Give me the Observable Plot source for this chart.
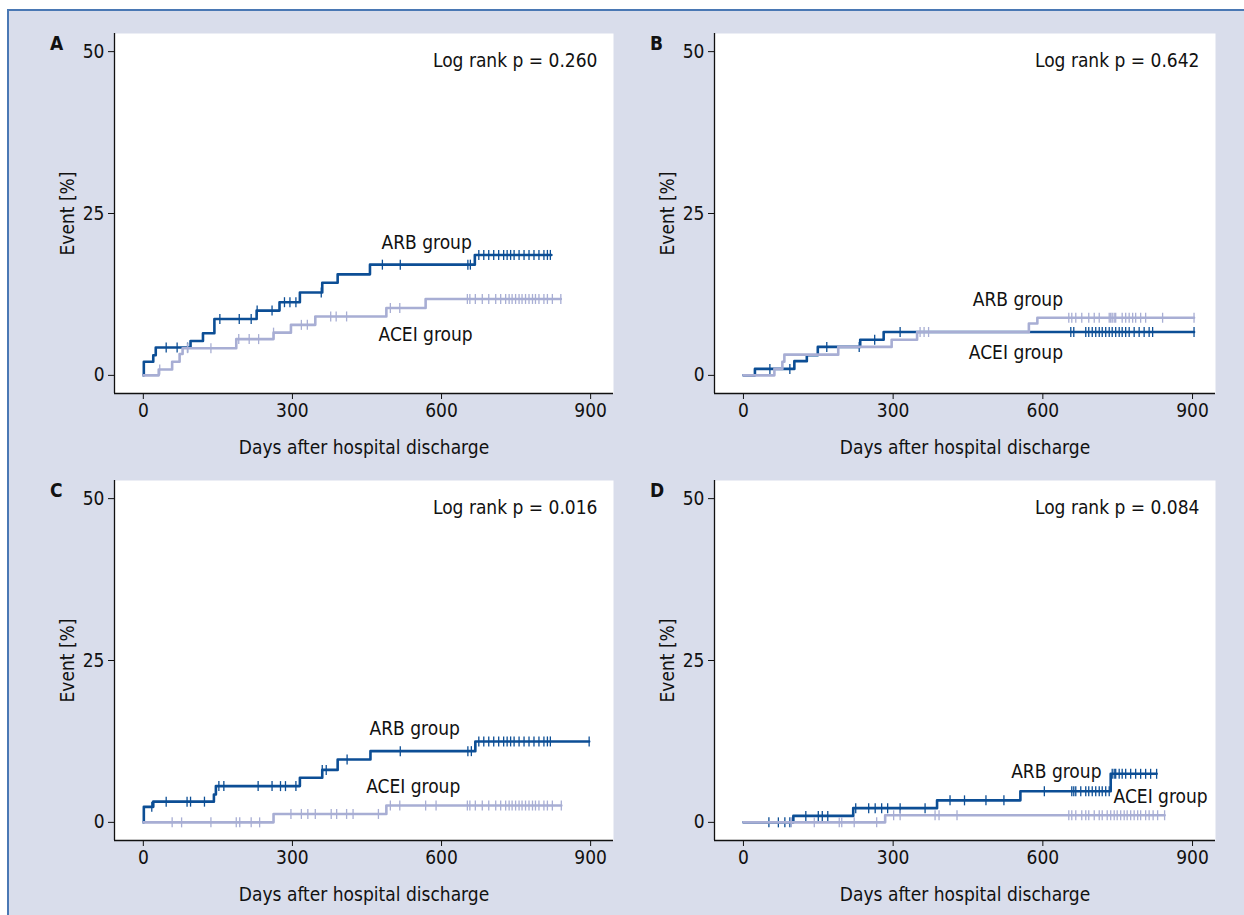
<!DOCTYPE html>
<html><head><meta charset="utf-8">
<script src="https://cdn.jsdelivr.net/npm/d3@7"></script>
<script src="https://cdn.jsdelivr.net/npm/@observablehq/plot@0.6"></script>
<style>
body{margin:0;background:#fff;}
#fig{position:relative;width:1244px;height:915px;overflow:hidden;font-family:"Liberation Sans Narrow","Arial Narrow","DejaVu Sans Condensed",sans-serif;}
#bg{position:absolute;left:7px;top:9px;right:-5px;bottom:-5px;background:#d9ddeb;border-top:2px solid #4a78b4;border-left:2px solid #4a78b4;}
.panel{position:absolute;}
.letter{position:absolute;font-weight:bold;font-size:19px;line-height:19px;color:#111;}
</style></head>
<body><div id="fig"><div id="bg"></div></div>
<script>
// ---- shared text / ticks ----
const panelLetters = ["A", "B", "C", "D"];
const logRankP = ["0.260", "0.642", "0.016", "0.084"];
const groupNames = ["ARB group", "ACEI group"];
const xTicks = [0, 300, 600, 900];
const yTicks = [0, 25, 50];
const xDomain = [-58, 946];
const yDomain = [-2.8, 52.8];

// ---- Panel A ----
const arbA_days = [0, 1, 20, 25, 95, 120, 143, 228, 274, 315, 360, 391, 456, 667, 821];
const arbA_pct = [0, 2.1, 3.1, 4.3, 5.3, 6.5, 8.7, 10.0, 11.3, 12.8, 14.3, 15.6, 17.1, 18.6, 18.6];
const arbA_censor = [46, 68, 89, 154, 193, 217, 229, 259, 284, 295, 307, 358, 481, 517, 653, 658, 675, 685, 695, 705, 715, 725, 732, 739, 746, 756, 766, 776, 786, 796, 806, 813, 819];
const aceiA_days = [0, 31, 58, 73, 79, 187, 262, 297, 346, 489, 568, 840];
const aceiA_pct = [0, 0.9, 2.1, 3.3, 4.2, 5.6, 6.6, 7.8, 9.1, 10.4, 11.8, 11.8];
const aceiA_censor = [33, 89, 136, 192, 213, 232, 262, 318, 330, 377, 388, 409, 497, 516, 652, 657, 668, 682, 695, 709, 719, 729, 736, 742, 749, 756, 762, 769, 776, 783, 789, 796, 806, 813, 823, 840];
const labelA_day = [570, 568];
const labelA_pct = [20.4, 6.3];

// ---- Panel B ----
const arbB_days = [0, 23, 102, 127, 149, 234, 281, 903];
const arbB_pct = [0, 1.0, 2.2, 3.1, 4.4, 5.5, 6.7, 6.7];
const arbB_censor = [53, 93, 167, 232, 263, 314, 656, 662, 686, 692, 699, 706, 713, 719, 726, 733, 739, 746, 753, 759, 766, 773, 783, 793, 803, 813, 820, 903];
const aceiB_days = [0, 62, 78, 82, 190, 297, 348, 572, 589, 903];
const aceiB_pct = [0, 1.0, 2.1, 3.2, 4.4, 5.5, 6.7, 8.0, 8.9, 8.9];
const aceiB_censor = [354, 362, 371, 652, 658, 666, 678, 692, 703, 713, 733, 736, 739, 743, 746, 759, 766, 773, 780, 786, 796, 806, 840, 903];
const labelB_day = [550, 546];
const labelB_pct = [11.6, 3.5];

// ---- Panel C ----
const arbC_days = [0, 1, 20, 142, 146, 315, 360, 391, 457, 668, 897];
const arbC_pct = [0, 2.4, 3.2, 4.3, 5.6, 6.9, 8.1, 9.7, 11.0, 12.5, 12.5];
const arbC_censor = [17, 46, 88, 95, 123, 152, 162, 231, 259, 276, 286, 307, 360, 368, 410, 517, 653, 660, 675, 685, 695, 705, 715, 725, 732, 739, 746, 756, 766, 776, 786, 796, 806, 813, 819, 897];
const aceiC_days = [0, 262, 489, 841];
const aceiC_pct = [0, 1.3, 2.6, 2.6];
const aceiC_censor = [58, 77, 136, 187, 194, 217, 234, 297, 318, 331, 346, 378, 389, 409, 422, 473, 497, 516, 568, 589, 652, 657, 668, 682, 695, 709, 719, 729, 736, 742, 749, 756, 762, 769, 776, 783, 789, 796, 806, 813, 823, 841];
const labelC_day = [546, 543];
const labelC_pct = [14.5, 5.45];

// ---- Panel D ----
const arbD_days = [0, 100, 220, 388, 555, 736, 828];
const arbD_pct = [0, 1.0, 2.2, 3.4, 4.8, 7.5, 7.5];
const arbD_censor = [51, 70, 83, 93, 125, 150, 158, 169, 225, 251, 264, 277, 289, 314, 364, 414, 443, 486, 522, 603, 658, 662, 666, 676, 686, 692, 699, 706, 713, 719, 726, 733, 739, 743, 746, 753, 759, 766, 776, 786, 796, 806, 816, 828];
const aceiD_days = [0, 284, 844];
const aceiD_pct = [0, 1.1, 1.1];
const aceiD_censor = [96, 142, 192, 197, 222, 267, 301, 314, 384, 392, 428, 652, 658, 666, 678, 686, 692, 703, 713, 719, 729, 736, 743, 749, 756, 763, 769, 776, 783, 790, 796, 806, 813, 821, 830, 844];
const labelD_day = [627, 836];
const labelD_pct = [7.8, 3.9];

// ---- styling ----
const darkBlue = "#0c4e95";
const lightBlue = "#a8aed4";
const FONT = '"Liberation Sans Narrow","Arial Narrow","DejaVu Sans Condensed",sans-serif';

const panelData = [
  {arb: [arbA_days, arbA_pct, arbA_censor], acei: [aceiA_days, aceiA_pct, aceiA_censor], lab: [labelA_day, labelA_pct]},
  {arb: [arbB_days, arbB_pct, arbB_censor], acei: [aceiB_days, aceiB_pct, aceiB_censor], lab: [labelB_day, labelB_pct]},
  {arb: [arbC_days, arbC_pct, arbC_censor], acei: [aceiC_days, aceiC_pct, aceiC_censor], lab: [labelC_day, labelC_pct]},
  {arb: [arbD_days, arbD_pct, arbD_censor], acei: [aceiD_days, aceiD_pct, aceiD_censor], lab: [labelD_day, labelD_pct]}
];
const layout = [
  {left: 0, top: 0, width: 622, height: 447},
  {left: 600, top: 0, width: 624, height: 447},
  {left: 0, top: 447, width: 622, height: 468},
  {left: 600, top: 447, width: 624, height: 468}
];

const tickSymbol = {
  draw(context, size) {
    const h = Math.sqrt(size / Math.PI);
    context.moveTo(0, -h);
    context.lineTo(0, h);
  }
};

function curveRows(days, pct) {
  return days.map((d, i) => ({day: d, pct: pct[i]}));
}
function censorRows(days, pct, cens) {
  return cens.map(t => {
    let i = 0;
    for (let k = 0; k < days.length; k++) if (days[k] <= t) i = k;
    return {day: t, pct: pct[i]};
  });
}

const fig = document.getElementById("fig");
panelData.forEach((p, idx) => {
  const L = layout[idx];
  const arbCurve = curveRows(p.arb[0], p.arb[1]);
  const aceiCurve = curveRows(p.acei[0], p.acei[1]);
  const arbCens = censorRows(p.arb[0], p.arb[1], p.arb[2]);
  const aceiCens = censorRows(p.acei[0], p.acei[1], p.acei[2]);
  const labels = groupNames.map((g, i) => ({name: g, day: p.lab[0][i], pct: p.lab[1][i]}));
  const chart = Plot.plot({
    width: L.width,
    height: L.height,
    marginLeft: 114,
    marginTop: 33,
    marginRight: 9,
    marginBottom: L.height - 393,
    style: {background: "transparent", fontFamily: FONT, fontSize: "19px", color: "#111", overflow: "visible"},
    x: {domain: xDomain},
    y: {domain: yDomain},
    marks: [
      Plot.frame({fill: "white", stroke: null}),
      Plot.axisX({ticks: xTicks, tickSize: 6, tickPadding: 4, fontSize: 19, label: "Days after hospital discharge", labelAnchor: "center", labelOffset: 60, labelArrow: "none"}),
      Plot.axisY({ticks: yTicks, tickSize: 6, tickPadding: 4, fontSize: 19, label: "Event [%]", labelAnchor: "center", labelOffset: 54, labelArrow: "none"}),
      Plot.ruleX([xDomain[0]], {stroke: "#111", strokeWidth: 1.3}),
      Plot.ruleY([yDomain[0]], {stroke: "#111", strokeWidth: 1.3}),
      Plot.line(arbCurve, {x: "day", y: "pct", curve: "step-after", stroke: darkBlue, strokeWidth: 2.6}),
      Plot.dot(arbCens, {x: "day", y: "pct", symbol: tickSymbol, r: 5, fill: "none", stroke: darkBlue, strokeWidth: 1.3}),
      Plot.line(aceiCurve, {x: "day", y: "pct", curve: "step-after", stroke: lightBlue, strokeWidth: 2.6}),
      Plot.dot(aceiCens, {x: "day", y: "pct", symbol: tickSymbol, r: 5, fill: "none", stroke: lightBlue, strokeWidth: 1.3}),
      Plot.text(labels, {x: "day", y: "pct", text: "name", fontSize: 19, fill: "#111"}),
      Plot.text([`Log rank p = ${logRankP[idx]}`], {frameAnchor: "top-right", dx: -16, dy: 20, fontSize: 19, fill: "#111"})
    ]
  });
  chart.classList.add("panel");
  chart.style.left = L.left + "px";
  chart.style.top = L.top + "px";
  fig.appendChild(chart);
  const letter = document.createElement("div");
  letter.className = "letter";
  letter.textContent = panelLetters[idx];
  letter.style.left = (L.left + 50) + "px";
  letter.style.top = (L.top + 34) + "px";
  fig.appendChild(letter);
});
</script>
</body></html>
